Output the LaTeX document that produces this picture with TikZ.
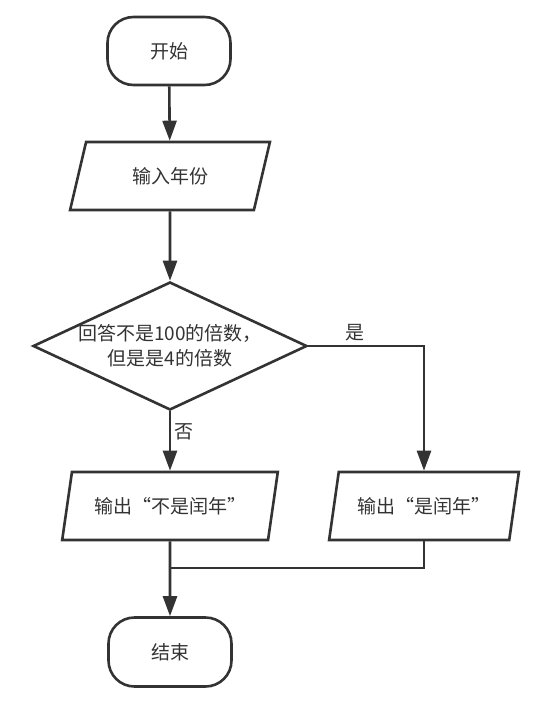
\documentclass[tikz,border=0pt]{standalone}
\usepackage{fontspec}
\newfontfamily\cjk{Noto Sans CJK SC}
\usetikzlibrary{shapes.geometric,arrows.meta}
\definecolor{ink}{HTML}{333333}

\begin{document}
\begin{tikzpicture}[x=1pt,y=-1pt,
	every node/.style={font=\cjk\fontsize{19}{25}\selectfont,text=ink},
	terminal/.style={rectangle,draw=ink,line width=2.6pt,rounded corners=26pt,minimum width=123pt,minimum height=68pt},
	io/.style={trapezium,trapezium left angle=72,trapezium right angle=108,trapezium stretches=true,draw=ink,line width=2.6pt,minimum height=68pt},
	decision/.style={diamond,aspect=2.14,inner sep=-4pt,draw=ink,line width=2.6pt,minimum width=274pt,minimum height=128pt,align=center},
	line/.style={draw=ink,line width=2.6pt},
	flow/.style={line,-{Triangle[length=20pt,width=14pt]}}]
	\useasboundingbox (0,0) rectangle (534,702);

	\node [terminal] (start) at (169,51) {开始};
	\node [io,minimum width=201pt] (input) at (170,176) {输入年份};
	\node [decision] (test) at (170,346) {回答不是100的倍数，\\但是是4的倍数};
	\node [io,minimum width=216pt] (no) at (170,506) {输出“不是闰年”};
	\node [io,minimum width=190pt] (yes) at (424,506) {输出“是闰年”};
	\node [terminal,minimum height=69pt] (end) at (170,652) {结束};
	\coordinate (merge) at (170,568);

	\draw [flow] (start) -- (input);
	\draw [flow] (input) -- (test);
	\draw [flow] (test) -- node [right,pos=0.35] {否} (no);
	\draw [flow] (test.east) -| node [above,pos=0.2] {是} (yes);
	\draw [line] (yes) |- (merge);
	\draw [flow] (no) -- (end);

\end{tikzpicture}
\end{document}
